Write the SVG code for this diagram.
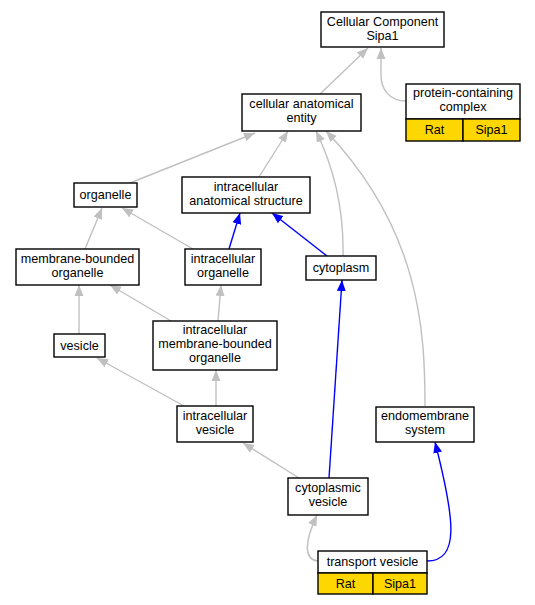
<svg xmlns="http://www.w3.org/2000/svg" width="535" height="605" viewBox="0 0 535 605">
<style>
.n{fill:#fff;stroke:#000;stroke-width:1.4}
.y{fill:#ffd700;stroke:#000;stroke-width:1.4}
text{font-family:"Liberation Sans",Arial,sans-serif;font-size:12.6px;text-anchor:middle;fill:#000}
.g{fill:none;stroke:#c0c0c0;stroke-width:1.4}
.b{fill:none;stroke:#0000ff;stroke-width:1.4}
</style>
<defs>
<marker id="ag" markerUnits="userSpaceOnUse" markerWidth="12" markerHeight="10" refX="11" refY="5" orient="auto"><path d="M0,0.5 L11,5 L0,9.5 z" fill="#c0c0c0"/></marker>
<marker id="ab" markerUnits="userSpaceOnUse" markerWidth="12" markerHeight="10" refX="11" refY="5" orient="auto"><path d="M0,0.5 L11,5 L0,9.5 z" fill="#0000ff"/></marker>
</defs>
<g id="edges">
<path class="g" marker-end="url(#ag)" d="M320,94 L368,48"/>
<path class="g" marker-end="url(#ag)" d="M406,101 C390,101 381,90 381,75 L381,48"/>
<path class="g" marker-end="url(#ag)" d="M130,183 L255,133"/>
<path class="g" marker-end="url(#ag)" d="M259,177 L288,131"/>
<path class="g" marker-end="url(#ag)" d="M343,256 C344,210 335,170 316,131"/>
<path class="g" marker-end="url(#ag)" d="M425,406 C425,330 420,230 326,131"/>
<path class="g" marker-end="url(#ag)" d="M85,249 L102,208"/>
<path class="g" marker-end="url(#ag)" d="M193,249 L122,208"/>
<path class="b" marker-end="url(#ab)" d="M229,249 L240,213"/>
<path class="b" marker-end="url(#ab)" d="M327,256 L272,213"/>
<path class="g" marker-end="url(#ag)" d="M79,334 L79,285"/>
<path class="g" marker-end="url(#ag)" d="M171,321 L110,285"/>
<path class="g" marker-end="url(#ag)" d="M218,321 L221,285"/>
<path class="g" marker-end="url(#ag)" d="M184,406 L97,358"/>
<path class="g" marker-end="url(#ag)" d="M216,406 L216,370"/>
<path class="g" marker-end="url(#ag)" d="M299,478 L243,443"/>
<path class="b" marker-end="url(#ab)" d="M329,478 L342,280"/>
<path class="g" marker-end="url(#ag)" d="M318,561 C305,560 303,545 317,515"/>
<path class="b" marker-end="url(#ab)" d="M427,561 C460,561 455,520 435,442"/>
</g>
<g id="cellular_component">
<rect class="n" x="321" y="12" width="123" height="35"/>
<text x="382.5" y="26">Cellular Component</text>
<text x="382.5" y="40">Sipa1</text>
</g>
<g id="protein_containing_complex">
<rect class="n" x="406" y="84" width="114" height="35"/>
<rect class="y" x="406" y="119" width="57" height="22"/>
<rect class="y" x="463" y="119" width="57" height="22"/>
<text x="463" y="97">protein-containing</text>
<text x="463" y="111">complex</text>
<text x="434.5" y="134">Rat</text>
<text x="491.5" y="134">Sipa1</text>
</g>
<g id="cellular_anatomical_entity">
<rect class="n" x="242" y="94" width="119" height="37"/>
<text x="301.5" y="108">cellular anatomical</text>
<text x="301.5" y="122">entity</text>
</g>
<g id="organelle">
<rect class="n" x="74" y="183" width="63" height="24"/>
<text x="105.5" y="199">organelle</text>
</g>
<g id="intracellular_anatomical_structure">
<rect class="n" x="182" y="177" width="128" height="36"/>
<text x="246" y="191">intracellular</text>
<text x="246" y="205">anatomical structure</text>
</g>
<g id="membrane_bounded_organelle">
<rect class="n" x="16" y="249" width="123" height="36"/>
<text x="77.5" y="263">membrane-bounded</text>
<text x="77.5" y="277">organelle</text>
</g>
<g id="intracellular_organelle">
<rect class="n" x="185" y="249" width="76" height="36"/>
<text x="223" y="263">intracellular</text>
<text x="223" y="277">organelle</text>
</g>
<g id="cytoplasm">
<rect class="n" x="306" y="256" width="70" height="24"/>
<text x="341" y="272">cytoplasm</text>
</g>
<g id="vesicle">
<rect class="n" x="54" y="334" width="51" height="23"/>
<text x="79.5" y="350">vesicle</text>
</g>
<g id="intracellular_membrane_bounded_organelle">
<rect class="n" x="153" y="321" width="124" height="49"/>
<text x="215" y="334">intracellular</text>
<text x="215" y="348">membrane-bounded</text>
<text x="215" y="362">organelle</text>
</g>
<g id="intracellular_vesicle">
<rect class="n" x="177" y="406" width="76" height="36"/>
<text x="215" y="420">intracellular</text>
<text x="215" y="434">vesicle</text>
</g>
<g id="endomembrane_system">
<rect class="n" x="376" y="407" width="98" height="35"/>
<text x="425" y="420">endomembrane</text>
<text x="425" y="434">system</text>
</g>
<g id="cytoplasmic_vesicle">
<rect class="n" x="288" y="478" width="80" height="37"/>
<text x="328" y="492">cytoplasmic</text>
<text x="328" y="506">vesicle</text>
</g>
<g id="transport_vesicle">
<rect class="n" x="318" y="551" width="109" height="22"/>
<rect class="y" x="318" y="573" width="55" height="21"/>
<rect class="y" x="373" y="573" width="54" height="21"/>
<text x="372.5" y="566">transport vesicle</text>
<text x="345.5" y="588">Rat</text>
<text x="400" y="588">Sipa1</text>
</g>
</svg>
